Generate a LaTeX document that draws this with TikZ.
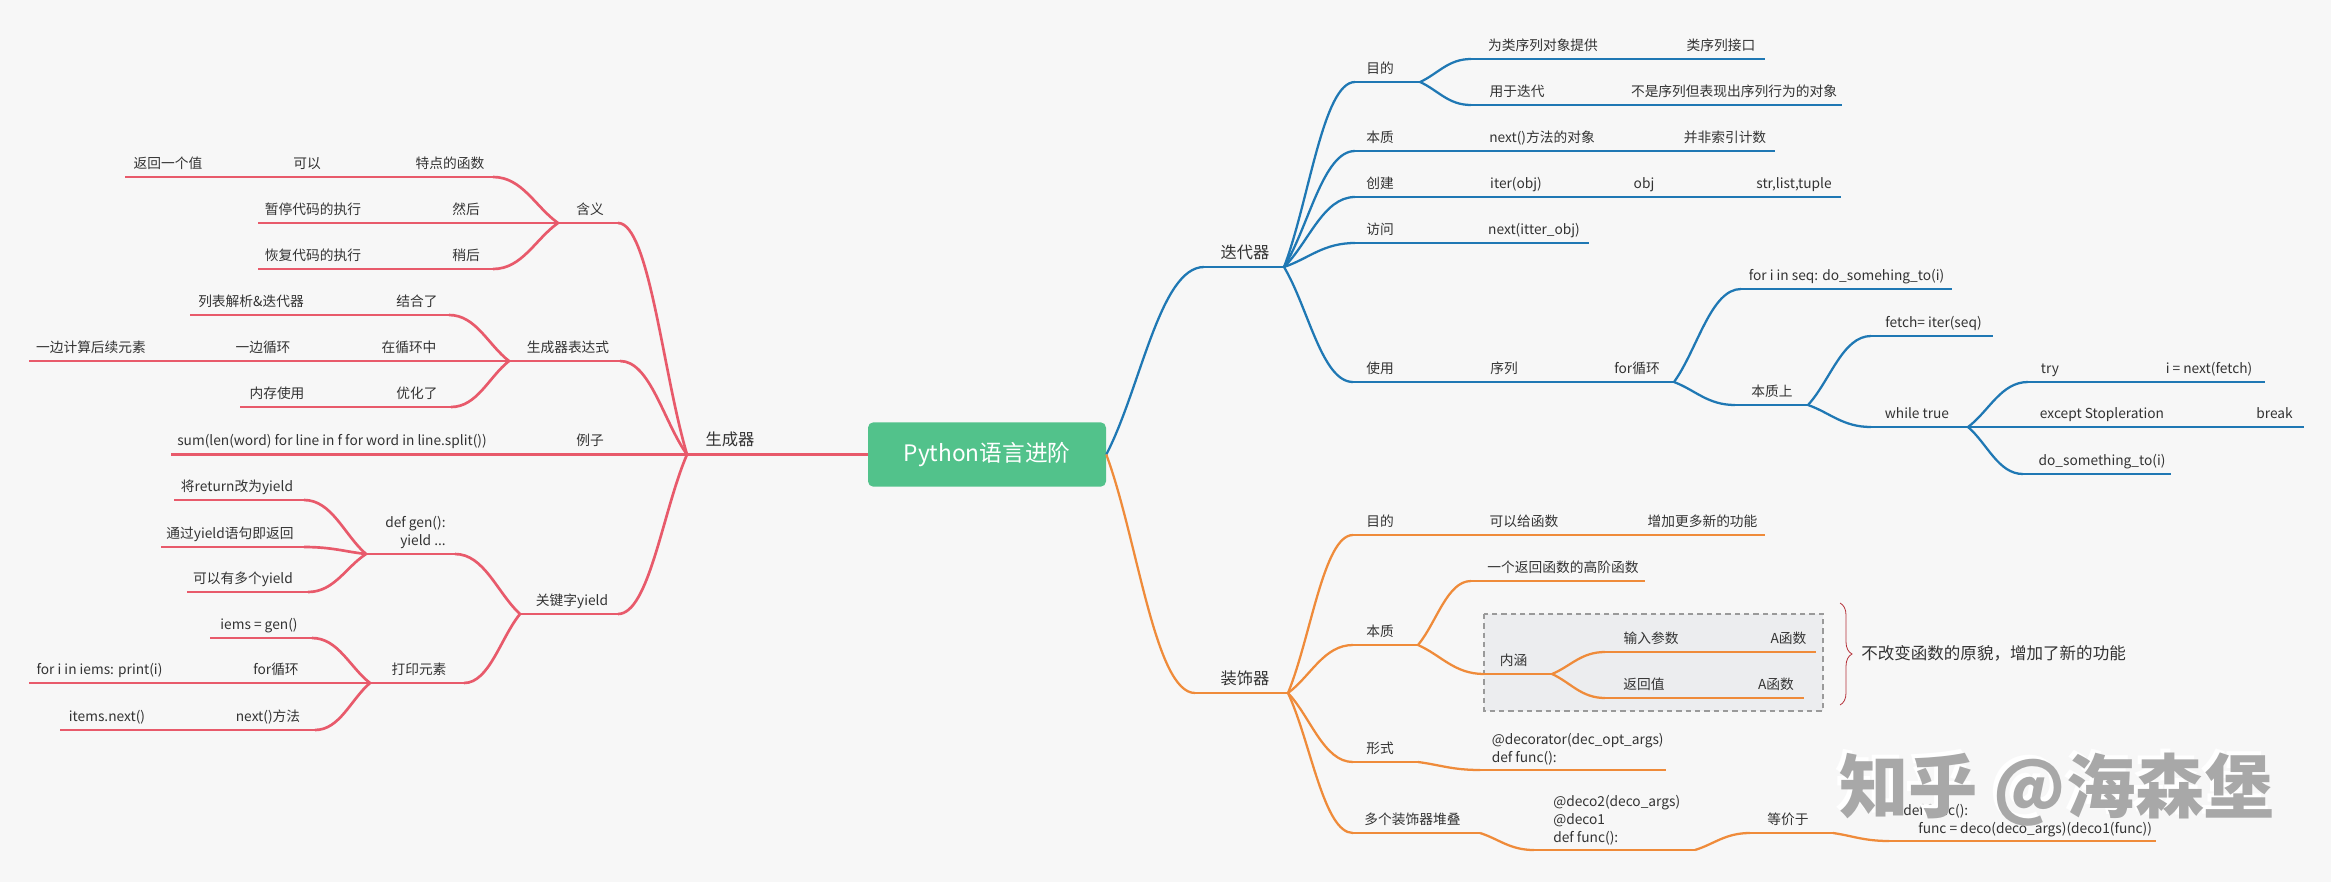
\documentclass[tikz,border=0pt]{standalone}
\usepackage{fontspec}
\setmainfont{Noto Sans CJK SC}
\usetikzlibrary{calc,decorations.pathreplacing}
\definecolor{bgc}{HTML}{F7F7F7}
\definecolor{cred}{HTML}{E85A6B}
\definecolor{cblue}{HTML}{1F78B4}
\definecolor{corange}{HTML}{EF8B3A}
\definecolor{cgreen}{HTML}{52C28B}
\definecolor{ctxt}{HTML}{333333}
\definecolor{cbox}{HTML}{ECEDEF}
\definecolor{cdash}{HTML}{9A9A9A}
\definecolor{cbrace}{HTML}{B5323A}
\definecolor{cwm}{HTML}{A8A8A8}
\newcommand\mmcurve[3]{\draw[#1] let \p1=(#2), \p2=(#3) in (#2) .. controls ($(#2)!0.35!(#3)$) and ({\x2-0.45*(\x2-\x1)},\y2) .. (#3);}
\tikzset{
 lab/.style={anchor=base, inner sep=0pt, text=ctxt, font=\fontsize{10.3}{12}\selectfont},
 labl/.style={anchor=base west, inner sep=0pt, text=ctxt, font=\fontsize{10.3}{12}\selectfont},
 lab1/.style={anchor=base, inner sep=0pt, text=ctxt, font=\fontsize{12.2}{14}\selectfont},
 rl/.style={draw=cred, line width=2pt},
 bl/.style={draw=cblue, line width=1.7pt},
 ol/.style={draw=corange, line width=1.7pt},
}
\begin{document}
\begin{tikzpicture}[x=0.75pt,y=-0.75pt]
\fill[bgc] (0,0) rectangle (2331,882);
\useasboundingbox (0,0) rectangle (2331,882);

% ---------- root ----------
\node[fill=cgreen, text=white, rounded corners=4pt, minimum width=178.5pt, minimum height=48.3pt, inner sep=0pt, font=\fontsize{17}{20}\selectfont] (root) at (987,454.5) {Python语言进阶};

% ---------- generator (left, red) ----------
\coordinate (G) at (687,454.5);
\draw[rl] (root.west) -- (G);
\node[lab1] (tGen) at (730,445) {生成器};

\coordinate (g1e) at (618,223); \coordinate (g1h) at (558,223);
\mmcurve{rl}{G}{g1e}
\draw[rl] (g1e) -- (g1h);
\node[lab] (t1) at (590,214) {含义};
\coordinate (g11e) at (493,177); \coordinate (g11s) at (125,177);
\mmcurve{rl}{g1h}{g11e}
\draw[rl] (g11e) -- (g11s);
\node[lab] (t2) at (450,168) {特点的函数};
\node[lab] (t3) at (307,168) {可以};
\node[lab] (t4) at (168,168) {返回一个值};
\coordinate (g12s) at (258,223);
\draw[rl] (g1h) -- (g12s);
\node[lab] (t5) at (466,214) {然后};
\node[lab] (t6) at (313,214) {暂停代码的执行};
\coordinate (g13e) at (493,269); \coordinate (g13s) at (258,269);
\mmcurve{rl}{g1h}{g13e}
\draw[rl] (g13e) -- (g13s);
\node[lab] (t7) at (466,260) {稍后};
\node[lab] (t8) at (313,260) {恢复代码的执行};

\coordinate (g2e) at (620,361); \coordinate (g2h) at (509,361);
\mmcurve{rl}{G}{g2e}
\draw[rl] (g2e) -- (g2h);
\node[lab] (t9) at (568,352) {生成器表达式};
\coordinate (g21e) at (449,315); \coordinate (g21s) at (190,315);
\mmcurve{rl}{g2h}{g21e}
\draw[rl] (g21e) -- (g21s);
\node[lab] (t10) at (417,306) {结合了};
\node[lab] (t11) at (251,306) {列表解析\&迭代器};
\coordinate (g22s) at (29,361);
\draw[rl] (g2h) -- (g22s);
\node[lab] (t12) at (409,352) {在循环中};
\node[lab] (t13) at (263,352) {一边循环};
\node[lab] (t14) at (91,352) {一边计算后续元素};
\coordinate (g23e) at (451,407); \coordinate (g23s) at (240,407);
\mmcurve{rl}{g2h}{g23e}
\draw[rl] (g23e) -- (g23s);
\node[lab] (t15) at (417,398) {优化了};
\node[lab] (t16) at (277,398) {内存使用};

\coordinate (g3s) at (171,454.5);
\draw[rl] (G) -- (g3s);
\node[lab] (t17) at (590,445.5) {例子};
\node[lab] (t18) at (332,445.5) {sum(len(word) for line in f for word in line.split())};

\coordinate (g4e) at (618,614); \coordinate (g4h) at (520,614);
\mmcurve{rl}{G}{g4e}
\draw[rl] (g4e) -- (g4h);
\node[lab] (t19) at (572,605) {关键字yield};
\coordinate (g41e) at (455,554); \coordinate (g41h) at (366,554);
\mmcurve{rl}{g4h}{g41e}
\draw[rl] (g41e) -- (g41h);
\node[labl] (t20) at (385,527) {def gen():};
\node[labl] (t21) at (400,545) {yield ...};
\coordinate (g411e) at (304,500); \coordinate (g411s) at (174,500);
\mmcurve{rl}{g41h}{g411e}
\draw[rl] (g411e) -- (g411s);
\node[lab] (t22) at (237,491) {将return改为yield};
\coordinate (g412e) at (304,547); \coordinate (g412s) at (161,547);
\mmcurve{rl}{g41h}{g412e}
\draw[rl] (g412e) -- (g412s);
\node[lab] (t23) at (230,538) {通过yield语句即返回};
\coordinate (g413e) at (308,592); \coordinate (g413s) at (187,592);
\mmcurve{rl}{g41h}{g413e}
\draw[rl] (g413e) -- (g413s);
\node[lab] (t24) at (243,583) {可以有多个yield};
\coordinate (g42e) at (464,683); \coordinate (g42h) at (370,683);
\mmcurve{rl}{g4h}{g42e}
\draw[rl] (g42e) -- (g42h);
\node[lab] (t25) at (419,674) {打印元素};
\coordinate (g421e) at (312,638); \coordinate (g421s) at (210,638);
\mmcurve{rl}{g42h}{g421e}
\draw[rl] (g421e) -- (g421s);
\node[lab] (t26) at (259,629) {iems = gen()};
\coordinate (g422s) at (29,683);
\draw[rl] (g42h) -- (g422s);
\node[lab] (t27) at (276,674) {for循环};
\node[lab] (t28) at (99.5,674) {for i in iems: print(i)};
\coordinate (g423e) at (315,730); \coordinate (g423s) at (60,730);
\mmcurve{rl}{g42h}{g423e}
\draw[rl] (g423e) -- (g423s);
\node[lab] (t29) at (268,721) {next()方法};
\node[lab] (t30) at (107,721) {items.next()};

% ---------- iterator (right top, blue) ----------
\coordinate (I) at (1284,267); \coordinate (ie) at (1204,267);
\mmcurve{bl}{root.east}{ie}
\draw[bl] (ie) -- (I);
\node[lab1] (u1) at (1245,258) {迭代器};
\coordinate (i1e) at (1355,82); \coordinate (i1h) at (1420,82);
\mmcurve{bl}{I}{i1e}
\draw[bl] (i1e) -- (i1h);
\node[lab] (u2) at (1380,73) {目的};
\coordinate (i11e) at (1471,59); \coordinate (i11s) at (1765,59);
\mmcurve{bl}{i1h}{i11e}
\draw[bl] (i11e) -- (i11s);
\node[lab] (u3) at (1543,50) {为类序列对象提供};
\node[lab] (u4) at (1721,50) {类序列接口};
\coordinate (i12e) at (1471,105); \coordinate (i12s) at (1842,105);
\mmcurve{bl}{i1h}{i12e}
\draw[bl] (i12e) -- (i12s);
\node[lab] (u5) at (1517,96) {用于迭代};
\node[lab] (u6) at (1734,96) {不是序列但表现出序列行为的对象};
\coordinate (i2e) at (1355,151); \coordinate (i2s) at (1775,151);
\mmcurve{bl}{I}{i2e}
\draw[bl] (i2e) -- (i2s);
\node[lab] (u7) at (1380,142) {本质};
\node[lab] (u8) at (1542,142) {next()方法的对象};
\node[lab] (u9) at (1725,142) {并非索引计数};
\coordinate (i3e) at (1355,197); \coordinate (i3s) at (1841,197);
\mmcurve{bl}{I}{i3e}
\draw[bl] (i3e) -- (i3s);
\node[lab] (u10) at (1380,188) {创建};
\node[lab] (u11) at (1516,188) {iter(obj)};
\node[lab] (u12) at (1644,188) {obj};
\node[lab] (u13) at (1794,188) {str,list,tuple};
\coordinate (i4e) at (1355,243); \coordinate (i4s) at (1589,243);
\mmcurve{bl}{I}{i4e}
\draw[bl] (i4e) -- (i4s);
\node[lab] (u14) at (1380,234) {访问};
\node[lab] (u15) at (1534,234) {next(itter\_obj)};
\coordinate (i5e) at (1353,382); \coordinate (i5h) at (1674,382);
\mmcurve{bl}{I}{i5e}
\draw[bl] (i5e) -- (i5h);
\node[lab] (u16) at (1380,373) {使用};
\node[lab] (u17) at (1504,373) {序列};
\node[lab] (u18) at (1637,373) {for循环};
\coordinate (i51e) at (1741,289); \coordinate (i51s) at (1952,289);
\mmcurve{bl}{i5h}{i51e}
\draw[bl] (i51e) -- (i51s);
\node[lab] (u19) at (1846.5,280) {for i in seq: do\_somehing\_to(i)};
\coordinate (i52e) at (1735,405); \coordinate (i52h) at (1808,405);
\mmcurve{bl}{i5h}{i52e}
\draw[bl] (i52e) -- (i52h);
\node[lab] (u20) at (1772,396) {本质上};
\coordinate (i521e) at (1871,336); \coordinate (i521s) at (1993,336);
\mmcurve{bl}{i52h}{i521e}
\draw[bl] (i521e) -- (i521s);
\node[lab] (u21) at (1933.5,327) {fetch= iter(seq)};
\coordinate (i522e) at (1871,427); \coordinate (i522h) at (1968,427);
\mmcurve{bl}{i52h}{i522e}
\draw[bl] (i522e) -- (i522h);
\node[lab] (u22) at (1917,418) {while true};
\coordinate (i5221e) at (2028,382); \coordinate (i5221s) at (2265,382);
\mmcurve{bl}{i522h}{i5221e}
\draw[bl] (i5221e) -- (i5221s);
\node[lab] (u23) at (2050,373) {try};
\node[lab] (u24) at (2209,373) {i = next(fetch)};
\coordinate (i5222s) at (2304,427);
\draw[bl] (i522h) -- (i5222s);
\node[lab] (u25) at (2102,418) {except Stopleration};
\node[lab] (u26) at (2274.5,418) {break};
\coordinate (i5223e) at (2023,474); \coordinate (i5223s) at (2171,474);
\mmcurve{bl}{i522h}{i5223e}
\draw[bl] (i5223e) -- (i5223s);
\node[lab] (u27) at (2102,465) {do\_something\_to(i)};

% ---------- decorator (right bottom, orange) ----------
\fill[cbox] (1484,614) rectangle (1823,711);
\draw[cdash, line width=1.1pt, dash pattern=on 4pt off 3pt] (1484,614) rectangle (1823,711);

\coordinate (D) at (1288,693); \coordinate (de) at (1195,693);
\mmcurve{ol}{root.east}{de}
\draw[ol] (de) -- (D);
\node[lab1] (v1) at (1245,684) {装饰器};
\coordinate (d1e) at (1353,535); \coordinate (d1s) at (1765,535);
\mmcurve{ol}{D}{d1e}
\draw[ol] (d1e) -- (d1s);
\node[lab] (v2) at (1380,526) {目的};
\node[lab] (v3) at (1524,526) {可以给函数};
\node[lab] (v4) at (1702.5,526) {增加更多新的功能};
\coordinate (d2e) at (1353,645); \coordinate (d2h) at (1418,645);
\mmcurve{ol}{D}{d2e}
\draw[ol] (d2e) -- (d2h);
\node[lab] (v5) at (1380,636) {本质};
\coordinate (d21e) at (1471,581); \coordinate (d21s) at (1645,581);
\mmcurve{ol}{d2h}{d21e}
\draw[ol] (d21e) -- (d21s);
\node[lab] (v6) at (1563,572) {一个返回函数的高阶函数};
\coordinate (d22e) at (1484,674); \coordinate (d22h) at (1552,674);
\mmcurve{ol}{d2h}{d22e}
\draw[ol] (d22e) -- (d22h);
\node[lab] (v7) at (1513.5,665) {内涵};
\coordinate (d221e) at (1605,652); \coordinate (d221s) at (1816,652);
\mmcurve{ol}{d22h}{d221e}
\draw[ol] (d221e) -- (d221s);
\node[lab] (v8) at (1651,643) {输入参数};
\node[lab] (v9) at (1788.5,643) {A函数};
\coordinate (d222e) at (1605,698); \coordinate (d222s) at (1804,698);
\mmcurve{ol}{d22h}{d222e}
\draw[ol] (d222e) -- (d222s);
\node[lab] (v10) at (1644,689) {返回值};
\node[lab] (v11) at (1776,689) {A函数};
\coordinate (d3e) at (1353,762); \coordinate (d3h) at (1418,762);
\mmcurve{ol}{D}{d3e}
\draw[ol] (d3e) -- (d3h);
\node[lab] (v12) at (1380,753) {形式};
\coordinate (d31e) at (1480,770); \coordinate (d31s) at (1666,770);
\mmcurve{ol}{d3h}{d31e}
\draw[ol] (d31e) -- (d31s);
\node[labl] (v13) at (1491.5,744.5) {@decorator(dec\_opt\_args)};
\node[labl] (v14) at (1491.5,762.5) {def func():};
\coordinate (d4e) at (1353,833); \coordinate (d4h) at (1480,833);
\mmcurve{ol}{D}{d4e}
\draw[ol] (d4e) -- (d4h);
\node[lab] (v15) at (1412.5,824) {多个装饰器堆叠};
\coordinate (d41e) at (1534,850); \coordinate (d41h) at (1695,850);
\mmcurve{ol}{d4h}{d41e}
\draw[ol] (d41e) -- (d41h);
\node[labl] (v16) at (1553,806.5) {@deco2(deco\_args)};
\node[labl] (v17) at (1553,824.5) {@deco1};
\node[labl] (v18) at (1553,842.5) {def func():};
\coordinate (d411e) at (1750,833); \coordinate (d411h) at (1833,833);
\mmcurve{ol}{d41h}{d411e}
\draw[ol] (d411e) -- (d411h);
\node[lab] (v19) at (1788,824) {等价于};
\coordinate (d4111e) at (1889,841); \coordinate (d4111s) at (2156,841);
\mmcurve{ol}{d411h}{d4111e}
\draw[ol] (d4111e) -- (d4111s);
\node[labl] (v20) at (1903,815.5) {def func():};
\node[labl] (v21) at (1918,833.5) {func = deco(deco\_args)(deco1(func))};

% ---------- brace & note ----------
\coordinate (bt) at (1840,603); \coordinate (bb) at (1840,705);
\draw[cbrace, line width=0.6pt, decorate, decoration={brace, amplitude=9pt}] (bt) -- (bb);
\node[anchor=base west, inner sep=0pt, text=ctxt, font=\fontsize{12.4}{14}\selectfont] (note) at (1861,659) {不改变函数的原貌，增加了新的功能};

% ---------- watermark ----------
\node[anchor=base west, inner sep=0pt, text=white, font=\fontsize{52}{60}\selectfont\bfseries] (wm0) at (1835,808) {知乎 @海森堡};
\node[anchor=base west, inner sep=0pt, text=cwm, font=\fontsize{52}{60}\selectfont\bfseries] (wm) at (1839,812) {知乎 @海森堡};
\end{tikzpicture}
\end{document}
